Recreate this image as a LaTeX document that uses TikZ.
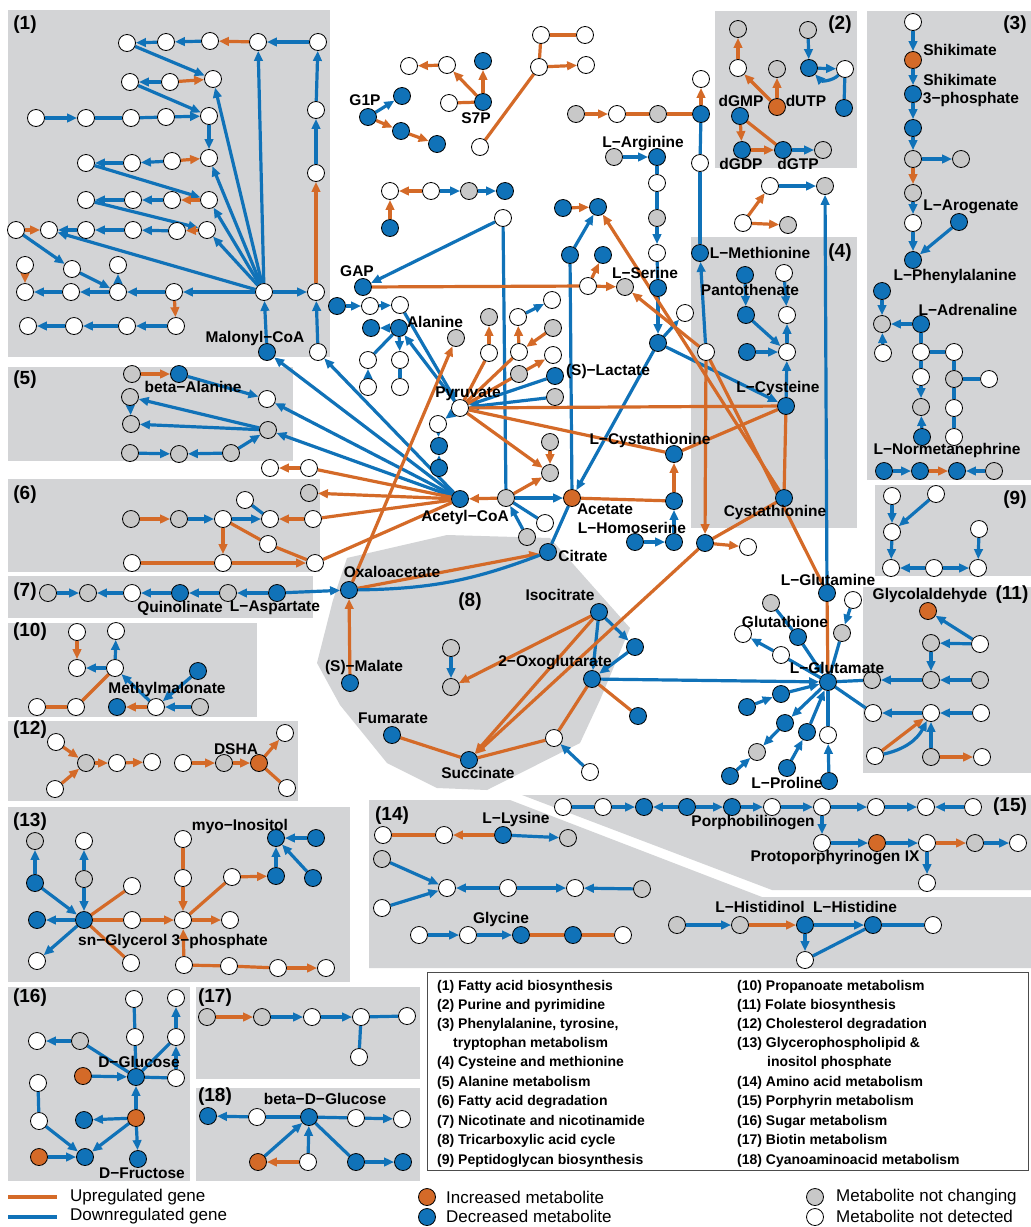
\documentclass[tikz,border=0pt]{standalone}
\usepackage{fontspec}
\setmainfont{Liberation Sans}
\usetikzlibrary{arrows.meta}
\pgfdeclarelayer{bg}
\pgfdeclarelayer{edge}
\pgfsetlayers{bg,edge,main}
\definecolor{cB}{RGB}{16,114,184}
\definecolor{cO}{RGB}{212,106,40}
\definecolor{cP}{RGB}{211,212,214}
\definecolor{cG}{RGB}{200,200,200}
\tikzset{
 mnode/.style={circle,draw=black,line width=0.8pt,minimum size=17pt,inner sep=0pt},
 W/.style={mnode,fill=white},
 G/.style={mnode,fill=cG},
 B/.style={mnode,fill=cB},
 O/.style={mnode,fill=cO},
 bb/.style={draw=cB,line width=3.2pt},
 oo/.style={draw=cO,line width=3.2pt},
 lbl/.style={font=\bfseries\fontsize{15.5}{16}\selectfont,inner sep=0pt},
 plbl/.style={font=\bfseries\fontsize{19}{19}\selectfont,inner sep=0pt},
 leg/.style={font=\bfseries\fontsize{14}{14}\selectfont,inner sep=0pt,anchor=west},
 legr/.style={font=\fontsize{17}{17}\selectfont,inner sep=0pt,anchor=west},
 panel/.style={fill=cP,draw=none},
 >={Triangle[length=10pt,width=8.5pt]}
}
\begin{document}
\begin{tikzpicture}[x=1pt,y=-1pt]
\useasboundingbox (0,0) rectangle (1031,1227);
% panels
\begin{pgfonlayer}{bg}
\fill[white] (0,0) rectangle (1031,1227);
\fill[panel] (8,10) rectangle (330,357);
\fill[panel] (715,11) rectangle (857,168);
\fill[panel] (867,11) rectangle (1031,480);
\fill[panel] (691,237) rectangle (857,528);
\fill[panel] (8,367) rectangle (293,461);
\fill[panel] (8,479) rectangle (320,572);
\fill[panel] (8,576) rectangle (313,618);
\fill[panel] (875,485) rectangle (1031,576);
\fill[panel] (8,623) rectangle (257,717);
\fill[panel] (863,587) rectangle (1031,773);
\fill[panel] (8,721) rectangle (298,801);
\fill[panel] (8,807) rectangle (350,982);
\fill[panel] (8,987) rectangle (190,1181);
\fill[panel] (196,987) rectangle (420,1079);
\fill[panel] (196,1088) rectangle (420,1181);
\fill[panel] (347,558) -- (447,535) -- (550,538) -- (630,628) -- (600,700) -- (580,743) -- (487,790) -- (437,788) -- (387,763) -- (340,705) -- (317,663) -- (333,600) -- cycle;
\fill[panel] (522,795) -- (1031,795) -- (1031,890) -- (772,890) -- cycle;
\fill[panel] (369,800) -- (510,800) -- (762,897) -- (1031,897) -- (1031,968) -- (369,968) -- cycle;
\end{pgfonlayer}
% nodes
\foreach \n/\x/\y in {a1/127/43, a2/166/42, a3/210/41, a4/258/42, a5/318/42, b1/130/82, b2/170/82, b3/213/79, c1/36/118, c2/86/118, c3/131/118, c4/166/117, c5/209/116, d1/86/163, d2/132/163, d3/172/161, d4/209/158, e1/86/200, e2/133/200, e3/172/200, e4/209/200, f1/16/230, f2/49/230, f3/86/230, f4/133/230, f5/177/231, f6/207/230, g1/25/265, g2/72/269, g3/118/265, h1/25/292, h2/71/292, h3/118/292, h4/174/292, hub1/264/292, h6/316/292, r1/316/173, r2/316/110, i1/28/326, i2/74/326, i3/127/326, i4/176/326, m2/318/352,
q3/267/399, s1/270/468, s2/309/468, t3/223/519, t4/270/519, t5/313/519, t6/245/500, t7/223/563, t8/268/544, t9/315/563, t10/132/563, u3/132/593,
v1/77/632, v2/77/668, v3/116/631, v4/115/668, v5/37/707, v6/76/707, v8/156/707,
w1/56/742, w3/55/789, w4/117/763, w5/152/762, w6/183/763, w9/285/733, w10/287/788,
x3/84/841, x5/132/886, x6/183/839, x7/183/878, x8/232/877, x14/132/920, x15/183/920, x16/230/920, x17/37/961, x18/131/963, x19/184/965, x20/229/966, x21/278/968, x22/326/968,
y1/134/999, y2/176/998, y3/37/1041, y5/135/1037, y6/176/1037, y8/176/1078, y9/38/1083, y10/39/1121, k2/257/1117, k3/356/1118, k4/402/1119, k6/308/1162,
z3/312/1017, z4/361/1017, z5/407/1016, z6/359/1057,
o1/409/66, o2/447/65, o4/449/103, o5/541/35, o6/585/35, o7/539/67, o8/586/65, o9/480/147, p2/617/114, p5/701/79, p6/700/163, p7/706/352, ar1/657/183, ar3/657/253, r1c/390/191, r2c/431/191, wt/503/218, gx1/588/286, n2/370/306, n3/400/305, n5/368/360, n6/368/387, n7/400/360, n8/400/387, pyr/460/408, n9/438/424, n14/489/353, n15/518/317, n16/519/352, n18/552/300, n20/553/355, n24/545/523, sw/685/313, sw2/748/547, tA/770/186, tC/743/223, c4b/787/315, c4d/787/352, pan2/784/273,
pp2/738/68, pp6/845/69, sh0/913/22, arog/913/223, ad3/883/353, ad4/921/352, ad5/954/352, ad6/921/377, ad10/989/379, ad11/954/408, ad12/954/437,
n9a/892/496, n9b/936/494, n9c/892/532, n9d/979/529, n9e/891/568, n9f/934/568, n9g/978/568,
gl2/853/600, gl5/743/634, gl6/781/655, gl14/828/735, f11b/980/644, f11g/873/713, f11h/931/713, f11i/981/713, f11j/875/756, f11l/982/757,
tc5/554/738, tc6/590/772,
pb1/563/807, pb2/603/807, pb6/772/807, pb7/822/807, pb8/876/807, pb9/926/807, pb10/973/807, pb11/822/843, pb13/927/843, pb15/1018/843, pb16/927/883,
ly1/383/835, ly2/444/835, a14b/447/888, a14c/382/908, a14d/508/888, a14e/575/888, gy1/419/935, gy2/468/935, gy4/623/935, hi5/933/925, hi6/805/960}
 \node[W] (\n) at (\x,\y) {};
\foreach \n/\x/\y in {q1/132/374, q4/130/397, q5/131/424, q6/268/430, q7/130/453, q8/179/454, q9/231/453, t0/309/493, t1/131/519, t2/179/519, u1/48/593, u2/88/593, u5/228/593, v9/200/707, w2/86/763, w7/224/763, x1/35/841, x4/84/879, y4/80/1041, z1/207/1017, z2/262/1017,
p1/576/114, p3/658/114, ar0/614/157, ar2/657/218, r3c/469/191, gx2/625/287, n12/456/338, n13/489/317, n17/553/328, n19/519/374, n21/555/397, n22/550/473, n23/550/442, acg/506/498, n25/527/537, tB/825/186, tD/788/225,
pp1/738/29, pp3/777/69, pp4/808/30, pp8/823/150, sh2/913/159, sh3/961/159, sh4/913/193, ad2/882/324, ad7/921/407, ad9/954/379, nm4/994/471,
gl1/771/603, gl3/842/633, gl10/757/752, f11c/931/643, f11d/931/680, f11e/980/680, f11f/872/680, f11k/931/757, tc1/451/648, tc2/451/687, pb14/975/843, ly3/568/838, a14a/382/859, a14f/642/889, hi1/677/925, hi2/740/925}
 \node[G] (\n) at (\x,\y) {};
\foreach \n/\x/\y in {mal/267/352, q2/179/374, u4/180/593, u6/277/593, oaa/349/590, v7/117/707, v10/198/671, x2/35/883, x9/276/876, x10/276/838, x11/316/838, x12/313/878, gly/84/920, x13/37/920, glc/136/1077, y11/84/1120, fru/85/1157, y14/138/1159, k1/208/1116, bglc/309/1117, k7/356/1162, k8/403/1162,
g1p/368/117, na/402/96, nb/401/131, nc/437/144, o3/483/61, s7p/483/102, p4/701/114, arg/657/157, ser/658/288, r4c/505/191, r5c/390/228, gap/363/287, gx3/603/255, gx4/563/208, gx5/598/207, gx6/570/255, n1/337/306, ala/399/328, n4/371/328, n10/439/446, n11/439/468, lac/555/376, acoa/460/499, hs1/674/501, hs2/674/542, hs3/635/542, cit/548/552, sx/658/343, lcysth/674/454, cys/786/406, c4a/746/315, c4c/747/352, pan1/745/275, cysth/784/498, sb/705/543, gln/827/593, met/700/253,
pp5/809/68, pp7/844/108, dgmp/740/116, dgdp/742/150, dgtp/783/150, s3p/913/94, sh1/913/128, phe/913/260, sh5/959/222, ad1/882/291, adr/921/324, ad8/922/437, nm1/884/471, nm2/920/471, nm3/957/471,
glu/828/682, gl4/798/637, gl7/747/707, gl8/781/694, gl9/785/723, gl11/730/776, gl12/787/768, gl13/807/732, pro/829/781,
mlt/350/683, iso/599/612, tc3/635/647, okg/592/679, tc4/638/716, fum/392/735, succ/469/760,
pb3/644/807, pb4/687/807, pb5/732/807, lys/503/835, gly2/521/935, gy3/573/935, hi3/805/925, hi4/873/925}
 \node[B] (\n) at (\x,\y) {};
\foreach \n/\x/\y in {w8/259/763, y7/83/1076, y12/136/1118, y13/39/1157, k5/258/1162, acet/572/498, dutp/777/107, shik/913/60, f11a/928/611, pb12/877/843}
 \node[O] (\n) at (\x,\y) {};
% edges
\begin{pgfonlayer}{edge}
\foreach \a/\b in {a5/a4, a3/a2, a2/a1, a1/b3, b2/b1, b1/c5, c1/c2, c4/c5, c5/d4, d3/d2, d2/d1, d1/e4, e3/e2, e2/e1, e1/f6, f3/f2, f4/f3, f5/f4, f1/g2, g2/h3, h3/g3, h2/h1, h3/h2, h4/h3, hub1/h4, hub1/h6, hub1/a4, hub1/b3, hub1/d4, hub1/e4, hub1/f6, hub1/f2, r1/r2, r2/a5, i4/i3, i3/i2, i2/i1, mal/hub1, m2/h6,
q2/q3, q4/q5, q6/q4, q6/q5, q7/q8, q9/q8, q9/q6, acoa/q3, acoa/q6, acoa/mal, acoa/m2,
t2/t3, t3/t4, u1/u2, u3/u2, u4/u3, u5/u4, u6/u5, u6/oaa,
v4/v3, v4/v2, v8/v4, v9/v8, v10/v8,
x2/x1, x4/x3, x4/gly, x2/gly, gly/x13, gly/x17, x9/x10, x11/x10, x12/x10,
y4/y3, y6/y2, y8/y6, y7/glc, y12/glc, y12/y11, y12/fru, y12/y14, y10/fru, y13/fru,
z2/z3, z3/z4, k2/k1, k3/k4, k5/bglc, k6/bglc, k7/k8,
g1p/na, r2c/r3c, r3c/r4c, wt/gap, gx6/gx5, n1/n2, n2/n3, ala/n4, n6/n5, ala/n7, n3/pyr, pyr/ala, pyr/n9, n9/n10, n11/n10, n15/n18, lac/pyr, n21/pyr, n25/acg, acg/acet, sx/acet, hs2/hs1, hs3/hs2, ser/sx, sx/sw, sx/cys, ar0/arg, ar2/ar3, p7/met, gln/tB, tA/tB, pan1/c4a, pan2/c4b, c4a/c4d, c4c/c4d, c4d/c4b, cys/c4d,
pp4/pp5, pp5/pp6, dgtp/pp8, sh0/shik, shik/s3p, s3p/sh1, sh1/sh2, sh2/sh3, sh4/arog, arog/phe, sh5/phe, ad1/ad2, adr/ad2, ad3/ad2, ad6/ad7, ad8/ad7, nm1/nm2, nm4/nm3,
n9a/n9c, n9b/n9c, n9c/n9e, n9f/n9e, n9f/n9g, n9d/n9g,
gl2/gl3, gl4/glu, gl6/gl5, gl7/gl8, gl8/glu, glu/gl9, gl9/gl10, gl11/gl10, gl12/gl13, gl13/glu, pro/gl14, okg/glu,
f11b/f11a, f11b/f11c, f11c/f11d, f11e/f11d, f11d/f11f, f11i/f11h, f11h/f11g, f11k/f11h,
tc1/tc2, iso/tc3, tc3/okg, iso/okg, tc6/tc5,
pb2/pb3, pb4/pb3, pb4/pb5, pb5/pb6, pb6/pb7, pb7/pb8, pb8/pb9, pb10/pb9, pb7/pb11, pb11/pb12, pb12/pb13, pb14/pb15, pb13/pb16,
lys/ly3, a14a/a14b, a14c/a14b, a14d/a14b, a14d/a14e, a14f/a14e, gy1/gy2, gy2/gly2, hi1/hi2, hi3/hi4, hi3/hi6}
 \draw[bb,->] (\a) -- (\b);
\foreach \a/\b in {c2/c3, c3/c4, wt/acg, gx6/acet, ala/n5, n7/n8, acg/n24, acet/cit, p4/p6, p6/met, arg/ar1, ar1/ar2, ar3/ser, t6/t4, y4/glc, y1/y5, y5/glc, glc/y6, glc/y8, y9/y10, z4/z5, z4/z6, k2/bglc, bglc/k3, bglc/k7, pp7/pp6, adr/ad4, ad4/ad5, ad4/ad6, ad5/ad9, ad9/ad10, ad9/ad11, ad11/ad12, gl3/glu, gl1/gl4, glu/gl6, gl14/glu, glu/f11f, glu/f11g, pb1/pb2, hi6/hi4, hi4/hi5}
 \draw[bb] (\a) -- (\b);
\foreach \a/\b in {a4/a3, b2/b3, d3/d4, e4/e3, f1/f2, f6/f5, g1/h1, h6/r1, h4/i4, q1/q2, s2/s1, acoa/t0, t1/t2, t5/t4, t3/t7, t7/t9, v1/v2, v8/v7, w1/w2, w3/w2, w2/w4, w4/w5, w6/w7, w7/w8, w8/w9, x14/x15, x15/x16, x7/x15, x8/x9, x19/x15, x21/x22, z1/z2, k6/k5, g1p/nb, nb/nc, o2/o1, s7p/o2, s7p/o3, o7/o8, p1/p2, p4/p5, r2c/r1c, r5c/r1c, gx1/gx2, gx1/gx3, gx4/gx5, oaa/n12, n14/n13, n16/n15, n17/n16, n19/n20, pyr/n22, n23/n22, acg/acoa, acg/n22, hs1/lcysth, oaa/cit, sb/sw2, p7/sb, tC/tA, tC/tD, pp2/pp1, dutp/pp2, dutp/pp3, dgmp/dgdp, dgdp/dgtp, sh2/sh4, nm2/nm3, f11j/f11h, f11k/f11l, mlt/oaa, iso/tc2, iso/succ, sb/succ, pb13/pb14, lys/ly2, hi2/hi3, cysth/gx5, p7/gx2}
 \draw[oo,->] (\a) -- (\b);
\foreach \a/\b in {acoa/s2, acoa/t5, acoa/t9, t3/t8, t8/t9, t10/t7, v5/v6, v6/v4, w8/w10, gly/x18, gly/x5, gly/x14, x6/x7, x15/x8, x19/x20, x20/x21, o4/s7p, o5/o6, o5/o7, o9/o7, p2/p3, p3/p4, gap/gx1, pyr/n14, pyr/n16, pyr/n19, pyr/cys, pyr/lcysth, acet/hs1, lcysth/cys, cysth/cys, sb/cysth, p7/gln, gln/glu, dgmp/dgtp, okg/tc4, fum/succ, succ/tc5, tc5/okg, ly1/ly2, gly2/gy3, gy3/gy4}
 \draw[oo] (\a) -- (\b);
\draw[bb] (cit) to[bend left=10] (oaa);
\draw[bb,->] (pp6) to[bend left=45] (pp5);
\draw[bb,->] (f11j) to[bend right=25] (f11h);
\end{pgfonlayer}
% labels
\foreach \t/\x/\y in {Malonyl−CoA/255/338, beta−Alanine/193/387, Quinolinate/180/608, L−Aspartate/275/608, Methylmalonate/167/689, DSHA/236/749, myo−Inositol/240/826, sn−Glycerol 3−phosphate/173/941, D−Glucose/139/1062, D−Fructose/142/1173, beta−D−Glucose/325/1099,
G1P/365/100, S7P/476/118, GAP/357/271, Alanine/435/322, Pyruvate/468/394, (S)−Lactate/608/371, Acetyl−CoA/465/517, Oxaloacetate/392/572, Acetate/605/509, L−Homoserine/632/528, Citrate/583/556, L−Arginine/643/144, L−Serine/645/273, L−Cystathionine/650/440, L−Methionine/760/253, Pantothenate/750/290, L−Cysteine/778/388, Cystathionine/775/512, dGMP/741/101, dUTP/806/101, dGDP/741/164, dGTP/798/164, Shikimate/960/50, Shikimate/960/80, 3−phosphate/971/99, L−Arogenate/971/207, L−Phenylalanine/955/276, L−Adrenaline/968/310, L−Normetanephrine/947/450, L−Glutamine/828/580, Glycolaldehyde/930/595, Glutathione/785/622, L−Glutamate/837/668, L−Proline/787/783, (S)−Malate/364/667, Isocitrate/560/595, 2−Oxoglutarate/555/663, Fumarate/393/718, Succinate/478/773, Porphobilinogen/753/823, Protoporphyrinogen IX/835/858, L−Lysine/516/819, Glycine/501/919, L−Histidinol/760/907, L−Histidine/855/907}
 \node[lbl] at (\x,\y) {\t};
\foreach \t/\x/\y in {(1)/25/25, (2)/840/25, (3)/1015/25, (4)/840/253, (5)/25/380, (6)/25/495, (7)/25/592, (8)/470/602, (9)/1015/500, (10)/30/632, (11)/1012/595, (12)/30/730, (13)/30/822, (14)/392/816, (15)/1010/807, (16)/30/998, (17)/215/998, (18)/215/1097}
 \node[plbl] at (\x,\y) {\t};
% legend box
\node[draw=black!70,line width=0.8pt,minimum width=601pt,minimum height=198pt,anchor=north west,inner sep=0pt] (legbox) at (427,972) {};
\foreach \t/\y in {(1) Fatty acid biosynthesis/987, (2) Purine and pyrimidine/1006, {(3) Phenylalanine, tyrosine,}/1025, (4) Cysteine and methionine/1063, (5) Alanine metabolism/1083, (6) Fatty acid degradation/1102, (7) Nicotinate and nicotinamide/1122, (8) Tricarboxylic acid cycle/1141, (9) Peptidoglycan biosynthesis/1161}
 \node[leg] at (437,\y) {\t};
\node[leg] at (453,1044) {tryptophan metabolism};
\foreach \t/\y in {(10) Propanoate metabolism/987, (11) Folate biosynthesis/1006, (12) Cholesterol degradation/1025, (13) Glycerophospholipid \&/1044, (14) Amino acid metabolism/1083, (15) Porphyrin metabolism/1102, (16) Sugar metabolism/1122, (17) Biotin metabolism/1141, (18) Cyanoaminoacid metabolism/1161}
 \node[leg] at (737,\y) {\t};
\node[leg] at (767,1063) {inositol phosphate};
% bottom legend
\coordinate (lu1) at (8,1197); \coordinate (lu2) at (57,1197);
\coordinate (ld1) at (8,1217); \coordinate (ld2) at (57,1217);
\draw[oo] (lu1) -- (lu2);
\draw[bb] (ld1) -- (ld2);
\node[legr] at (70,1197) {Upregulated gene};
\node[legr] at (70,1216) {Downregulated gene};
\node[O] (li) at (427,1197) {};
\node[B] (ldc) at (427,1217) {};
\node[legr] at (446,1197) {Increased metabolite};
\node[legr] at (446,1216) {Decreased metabolite};
\node[G] (lg) at (815,1197) {};
\node[W] (lw) at (815,1217) {};
\node[legr] at (836,1197) {Metabolite not changing};
\node[legr] at (836,1216) {Metabolite not detected};
\end{tikzpicture}
\end{document}
